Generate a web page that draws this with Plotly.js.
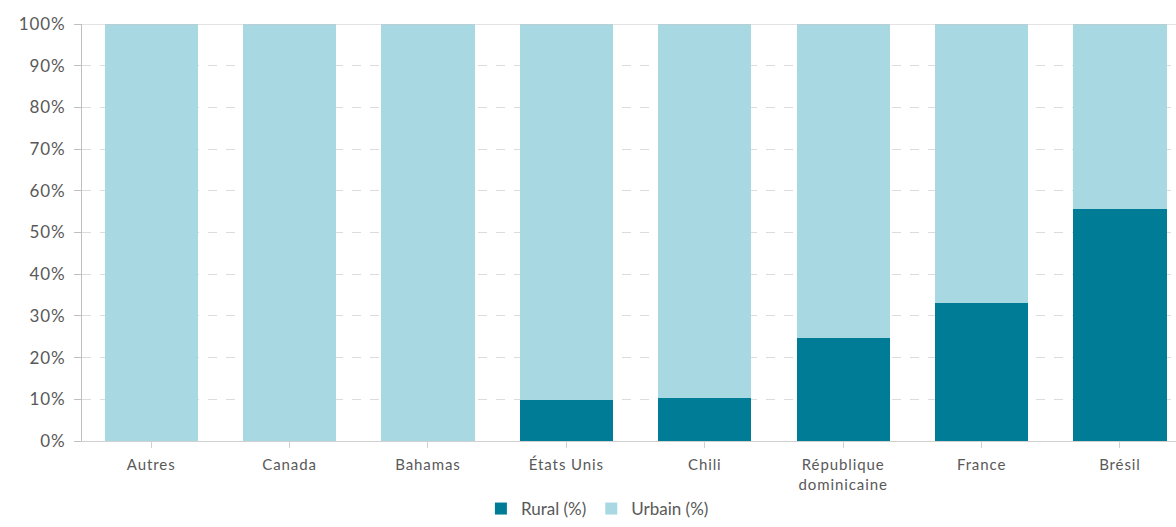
<!DOCTYPE html>
<html><head><meta charset="utf-8">
<script src="https://cdn.plot.ly/plotly-3.0.1.min.js"></script>
<style>html,body{margin:0;padding:0;background:#fff}#chart{width:1176px;height:527px}
#chart .xtick text, #chart .ytick text{letter-spacing:0.9px}</style>
</head><body><div id="chart"></div>
<script>
const categories = ["Autres","Canada","Bahamas","États Unis","Chili","République<br>dominicaine","France","Brésil"];
const rural = [0, 0, 0, 9.9, 10.2, 24.8, 33.1, 55.7];
const urbain = [100, 100, 100, 90.1, 89.8, 75.2, 66.9, 44.3];
const yTickVals = [0,10,20,30,40,50,60,70,80,90,100];
const yTickText = ["0%","10%","20%","30%","40%","50%","60%","70%","80%","90%","100%"];

const font = {family: "'Century Gothic', 'Lato', 'DejaVu Sans', sans-serif", color: "#595959"};
const traces = [
  {type:"bar", name:"Rural (%)", x: categories.map((c,i)=>i), y: rural, marker:{color:"#007c96"}, hoverinfo:"y"},
  {type:"bar", name:"Urbain (%)", x: categories.map((c,i)=>i), y: urbain, marker:{color:"#a8d8e2"}, hoverinfo:"y"}
];
const layout = {
  width:1176, height:527,
  margin:{l:82, r:0, t:24, b:86},
  barmode:"stack", bargap:0.326,
  paper_bgcolor:"#fff", plot_bgcolor:"#fff",
  font: Object.assign({size:15}, font),
  showlegend:true,
  legend:{orientation:"h", xref:"container", yref:"container", x:0.508, xanchor:"center", y:0, yanchor:"bottom",
          font: Object.assign({size:17}, font), traceorder:"normal", itemwidth:30},
  xaxis:{
    tickmode:"array", tickvals: categories.map((c,i)=>i), ticktext: categories,
    range:[-0.5, 7.405], showgrid:false, zeroline:false, automargin:false,
    showline:true, linecolor:"#d0d0d0", linewidth:1,
    ticks:"outside", ticklen:6, tickcolor:"#d0d0d0", tickson:"boundaries",
    tickfont: Object.assign({size:15}, font), tickangle:0, ticklabelstandoff:4
  },
  yaxis:{
    range:[0,100], tickmode:"array", tickvals:yTickVals, ticktext:yTickText,
    showgrid:true, gridcolor:"#dcdcdc", griddash:"dash", gridwidth:1, automargin:false,
    zeroline:false, showline:true, linecolor:"#bfbfbf", linewidth:1,
    ticks:"outside", ticklen:7, tickcolor:"#bfbfbf",
    tickfont: Object.assign({size:17}, font), ticklabelstandoff:5
  },
  shapes:[{type:"line", xref:"paper", yref:"y", x0:0, x1:1, y0:100, y1:100, line:{color:"#c8c8c8", width:1}}]
};
Plotly.newPlot("chart", traces, layout, {displayModeBar:false, staticPlot:true});
</script></body></html>
